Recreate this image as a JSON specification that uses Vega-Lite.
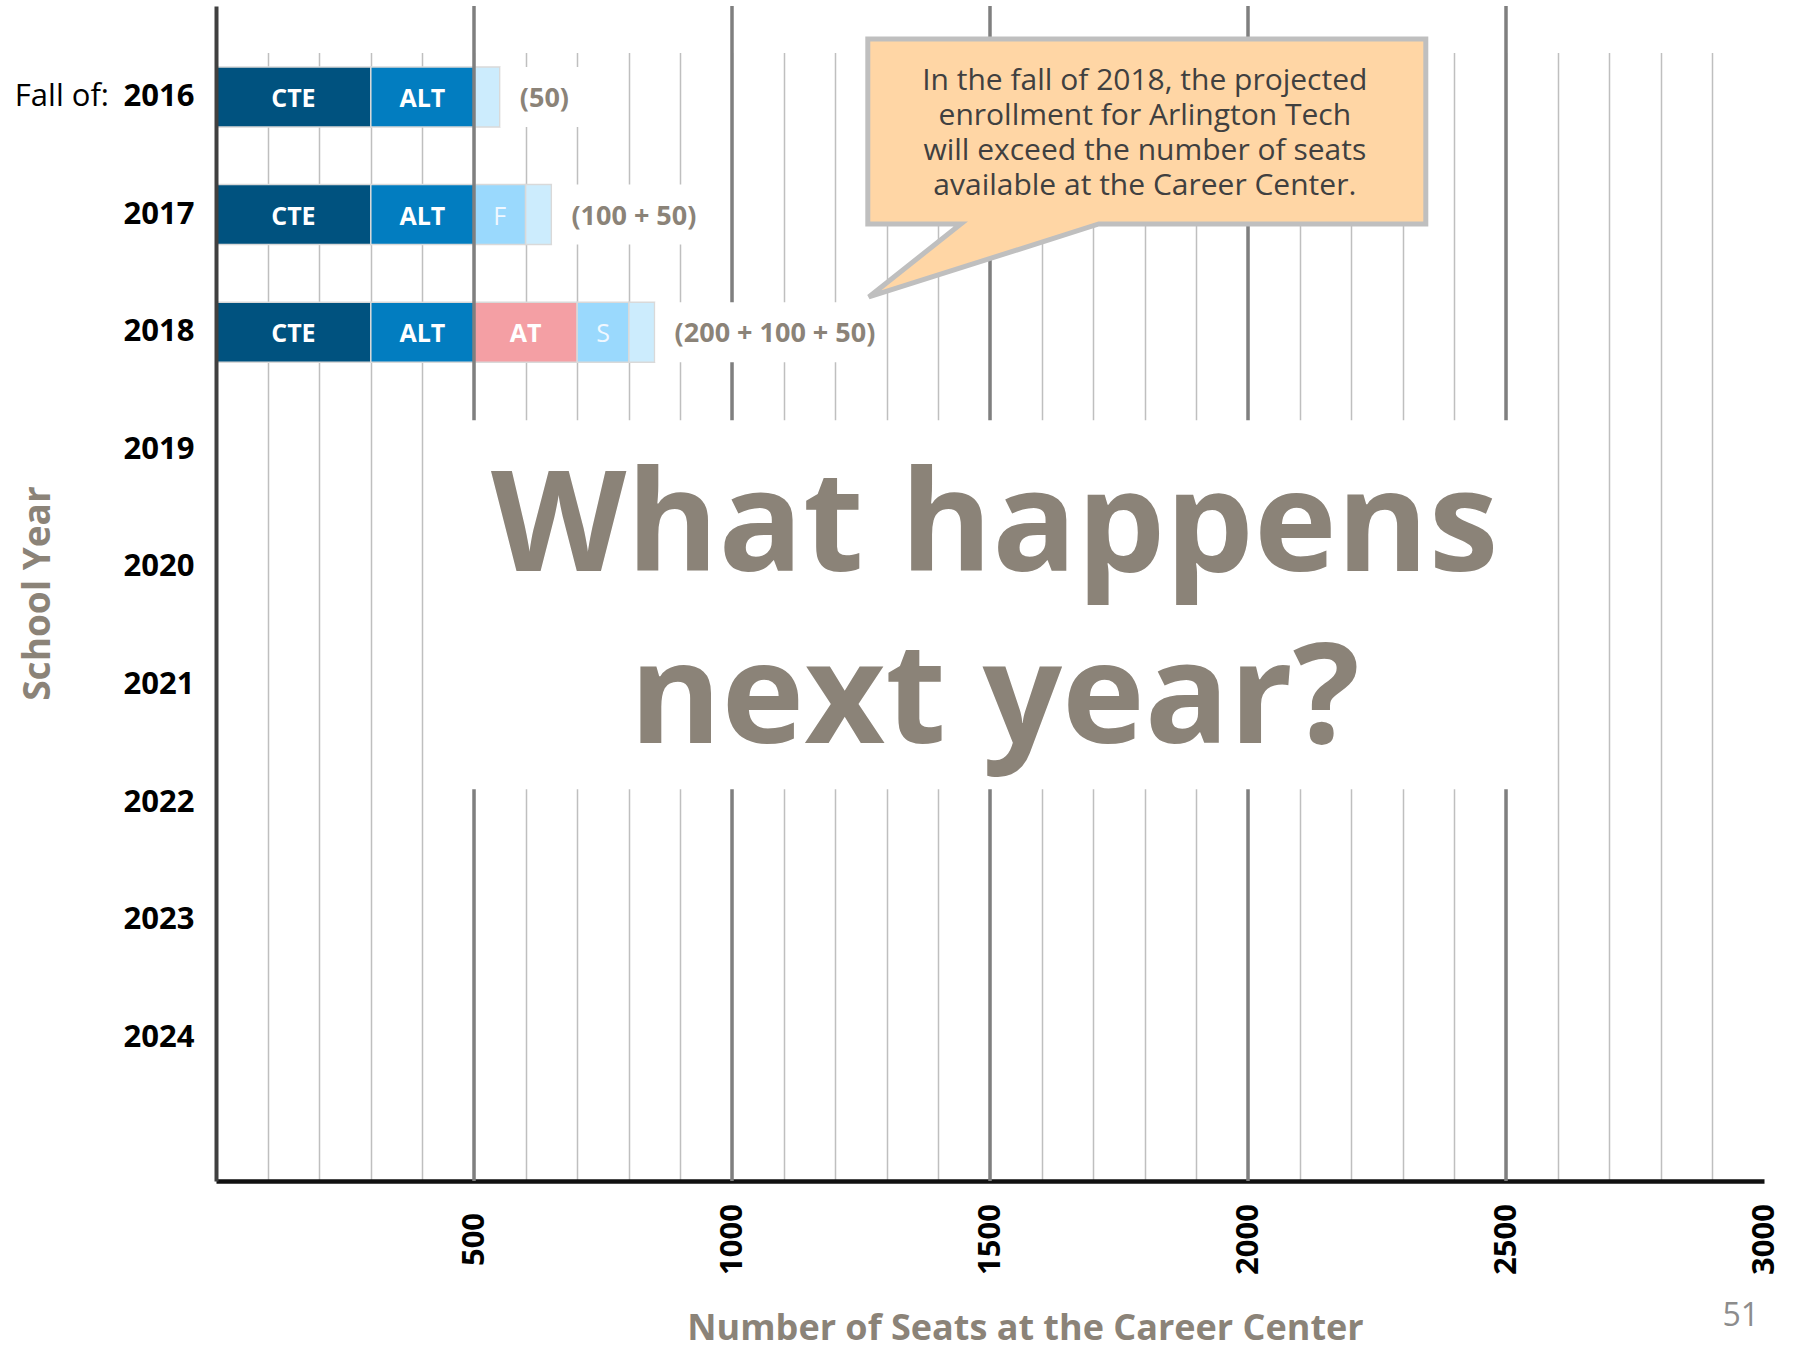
{
  "$schema": "https://vega.github.io/schema/vega-lite/v6.json",
  "width": 1548,
  "height": 1175,
  "autosize": {"type": "none"},
  "padding": {"left": 216, "top": 6, "right": 32, "bottom": 169},
  "background": "white",
  "config": {"view": {"stroke": null}, "font": "Open Sans"},
  "datasets": {
    "seats": [
      {"year": "2016", "segment": "CTE", "seats": 300, "order": 1, "label": "CTE", "note": ""},
      {"year": "2016", "segment": "ALT", "seats": 200, "order": 2, "label": "ALT", "note": ""},
      {"year": "2016", "segment": "New", "seats": 50, "order": 5, "label": "", "note": "(50)"},
      {"year": "2017", "segment": "CTE", "seats": 300, "order": 1, "label": "CTE", "note": ""},
      {"year": "2017", "segment": "ALT", "seats": 200, "order": 2, "label": "ALT", "note": ""},
      {"year": "2017", "segment": "F", "seats": 100, "order": 3, "label": "F", "note": ""},
      {"year": "2017", "segment": "New", "seats": 50, "order": 5, "label": "", "note": "(100 + 50)"},
      {"year": "2018", "segment": "CTE", "seats": 300, "order": 1, "label": "CTE", "note": ""},
      {"year": "2018", "segment": "ALT", "seats": 200, "order": 2, "label": "ALT", "note": ""},
      {"year": "2018", "segment": "AT", "seats": 200, "order": 3, "label": "AT", "note": ""},
      {"year": "2018", "segment": "S", "seats": 100, "order": 4, "label": "S", "note": ""},
      {"year": "2018", "segment": "New", "seats": 50, "order": 5, "label": "", "note": "(200 + 100 + 50)"}
    ],
    "majors": [{"grid": 500}, {"grid": 1000}, {"grid": 1500}, {"grid": 2000}, {"grid": 2500}],
    "one": [{"item": "annotation"}]
  },
  "layer": [
    {
      "data": {"name": "seats"},
      "mark": {"type": "bar", "stroke": "#D9D9D9", "strokeWidth": 1.5},
      "encoding": {
        "x": {
          "field": "seats", "type": "quantitative", "stack": "zero",
          "scale": {"domain": [0, 3000], "nice": false, "zero": true},
          "axis": {
            "title": "Number of Seats at the Career Center",
            "values": [100,200,300,400,500,600,700,800,900,1000,1100,1200,1300,1400,1500,1600,1700,1800,1900,2000,2100,2200,2300,2400,2500,2600,2700,2800,2900,3000],
            "format": "d",
            "labelExpr": "datum.value % 500 === 0 ? datum.label : ''",
            "labelAngle": 270,
            "labelAlign": "center",
            "labelBaseline": "middle",
            "labelPadding": 58,
            "labelFont": "Open Sans",
            "labelFontSize": 31,
            "labelFontWeight": "bold",
            "labelColor": "#000000",
            "labelOverlap": false,
            "labelFlush": false,
            "ticks": false,
            "tickSize": 0,
            "domainColor": "#111111",
            "domainWidth": 4.5,
            "grid": true,
            "gridColor": {"condition": {"test": "datum.value === 3000", "value": "transparent"}, "value": "#BFBFBF"},
            "gridWidth": 1.5,
            "titleX": 809,
            "titleY": 158,
            "titleAlign": "center",
            "titleBaseline": "alphabetic",
            "titleFont": "Open Sans",
            "titleFontSize": 36,
            "titleFontWeight": "bold",
            "titleColor": "#8B8378",
            "zindex": 0
          }
        },
        "y": {
          "field": "year", "type": "ordinal",
          "scale": {"domain": ["2016","2017","2018","2019","2020","2021","2022","2023","2024"], "paddingInner": 0.49, "paddingOuter": 0.741, "align": 0.35},
          "axis": {
            "title": "School Year",
            "titleAngle": 270,
            "titleX": -178,
            "titleY": 587,
            "titleAlign": "center",
            "titleBaseline": "middle",
            "titleFont": "Open Sans",
            "titleFontSize": 37,
            "titleFontWeight": "bold",
            "titleColor": "#8B8378",
            "labelFont": "Open Sans",
            "labelFontSize": 31,
            "labelFontWeight": "bold",
            "labelColor": "#000000",
            "labelPadding": 22,
            "ticks": false,
            "domainColor": "#404040",
            "domainWidth": 4,
            "grid": false,
            "zindex": 1
          }
        },
        "color": {
          "field": "segment", "type": "nominal",
          "scale": {"domain": ["CTE","ALT","AT","F","S","New"], "range": ["#00527F","#027DC0","#F49FA4","#9AD9FD","#9AD9FD","#CCECFD"]},
          "legend": null
        },
        "order": {"field": "order", "type": "quantitative"}
      }
    },
    {
      "data": {"name": "one"},
      "mark": {"type": "point", "filled": true, "color": "white", "opacity": 1, "size": 4, "strokeWidth": 0, "shape": "M2,-100 H1560 V-44 H2 Z"},
      "encoding": {
        "x": {"datum": 0, "type": "quantitative"},
        "y": {"datum": "2016", "type": "ordinal"}
      }
    },
    {
      "data": {"name": "majors"},
      "mark": {"type": "rule", "color": "#7F7F7F", "strokeWidth": 3.5},
      "encoding": {
        "x": {"field": "grid", "type": "quantitative"}
      }
    },
    {
      "data": {"name": "one"},
      "mark": {"type": "point", "filled": true, "color": "white", "opacity": 1, "size": 4, "strokeWidth": 0, "shape": "M-545,-147 H550 V222 H-545 Z"},
      "encoding": {
        "x": {"datum": 1500, "type": "quantitative"},
        "y": {"datum": "2020", "type": "ordinal"}
      }
    },
    {
      "data": {"name": "seats"},
      "mark": {"type": "point", "filled": true, "color": "white", "size": 4, "strokeWidth": 0},
      "encoding": {
        "x": {"field": "seats", "type": "quantitative", "stack": "zero", "bandPosition": 1},
        "y": {"field": "year", "type": "ordinal"},
        "detail": {"field": "segment"},
        "order": {"field": "order", "type": "quantitative"},
        "shape": {
          "field": "year", "type": "nominal",
          "scale": {"domain": ["2016","2017","2018"], "range": ["M0.8,-30 H110 V30 H0.8 Z", "M0.8,-30 H164 V30 H0.8 Z", "M0.8,-30 H215 V30 H0.8 Z"]},
          "legend": null
        },
        "opacity": {"condition": {"test": "datum.segment === 'New'", "value": 1}, "value": 0}
      }
    },
    {
      "data": {"name": "seats"},
      "mark": {"type": "text", "font": "Open Sans", "fontWeight": "bold", "fontSize": 25, "color": "white", "baseline": "middle", "align": "center", "dy": 2},
      "encoding": {
        "x": {"field": "seats", "type": "quantitative", "stack": "zero", "bandPosition": 0.5},
        "y": {"field": "year", "type": "ordinal"},
        "detail": {"field": "segment"},
        "order": {"field": "order", "type": "quantitative"},
        "text": {"condition": {"test": "datum.segment === 'CTE' || datum.segment === 'ALT' || datum.segment === 'AT'", "field": "label"}, "value": ""}
      }
    },
    {
      "data": {"name": "seats"},
      "mark": {"type": "text", "font": "Open Sans", "fontWeight": "normal", "fontSize": 25, "color": "#F0F8FF", "baseline": "middle", "align": "center", "dy": 2},
      "encoding": {
        "x": {"field": "seats", "type": "quantitative", "stack": "zero", "bandPosition": 0.5},
        "y": {"field": "year", "type": "ordinal"},
        "detail": {"field": "segment"},
        "order": {"field": "order", "type": "quantitative"},
        "text": {"condition": {"test": "datum.segment === 'F' || datum.segment === 'S'", "field": "label"}, "value": ""}
      }
    },
    {
      "data": {"name": "seats"},
      "mark": {"type": "text", "font": "Open Sans", "fontWeight": "bold", "fontSize": 27, "color": "#8B8378", "baseline": "middle", "align": "left", "dx": 20, "dy": 2},
      "encoding": {
        "x": {"field": "seats", "type": "quantitative", "stack": "zero", "bandPosition": 1},
        "y": {"field": "year", "type": "ordinal"},
        "detail": {"field": "segment"},
        "order": {"field": "order", "type": "quantitative"},
        "text": {"field": "note"}
      }
    },
    {
      "data": {"name": "one"},
      "mark": {"type": "text", "text": ["What happens", "next year?"], "font": "Open Sans", "fontWeight": "bold", "fontSize": 140, "lineHeight": 172, "color": "#8B8378", "align": "center", "baseline": "alphabetic", "dy": 4},
      "encoding": {
        "x": {"datum": 1509, "type": "quantitative"},
        "y": {"datum": "2020", "type": "ordinal"}
      }
    },
    {
      "data": {"name": "one"},
      "mark": {"type": "point", "filled": false, "fill": "#FFD6A5", "fillOpacity": 1, "opacity": 1, "stroke": "#BFBFBF", "strokeWidth": 5, "strokeJoin": "miter", "size": 4, "shape": "M-277,-58 H281 V127 H-46 L-276,200 L-184,127 H-277 Z"},
      "encoding": {
        "x": {"datum": 1800, "type": "quantitative"},
        "y": {"datum": "2016", "type": "ordinal"}
      }
    },
    {
      "data": {"name": "one"},
      "mark": {"type": "text", "text": ["In the fall of 2018, the projected", "enrollment for Arlington Tech", "will exceed the number of seats", "available at the Career Center."], "font": "Open Sans", "fontSize": 30, "lineHeight": 35, "color": "#404040", "align": "center", "baseline": "alphabetic", "dy": -7},
      "encoding": {
        "x": {"datum": 1800, "type": "quantitative"},
        "y": {"datum": "2016", "type": "ordinal"}
      }
    },
    {
      "data": {"name": "one"},
      "mark": {"type": "text", "text": "Fall of:", "font": "Open Sans", "fontSize": 31, "color": "#000000", "align": "right", "baseline": "middle", "dx": -107},
      "encoding": {
        "x": {"datum": 0, "type": "quantitative"},
        "y": {"datum": "2016", "type": "ordinal"}
      }
    },
    {
      "data": {"name": "one"},
      "mark": {"type": "text", "text": "51", "font": "Open Sans", "fontSize": 32, "color": "#8C8C8C", "align": "right", "baseline": "middle", "dx": -5, "dy": 278},
      "encoding": {
        "x": {"datum": 3000, "type": "quantitative"},
        "y": {"datum": "2024", "type": "ordinal"}
      }
    }
  ]
}
